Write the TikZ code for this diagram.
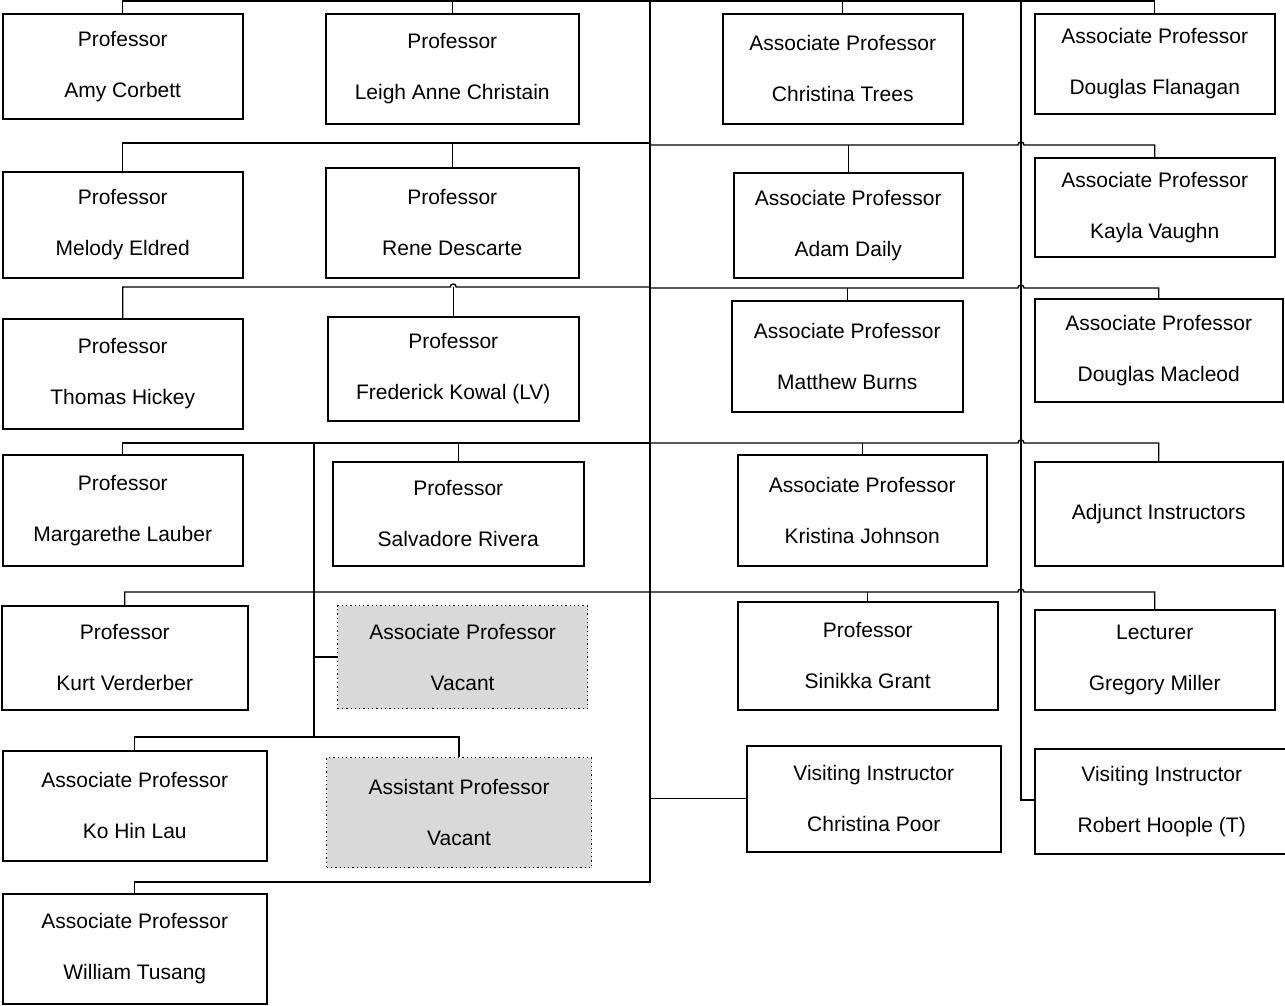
\documentclass[tikz,border=0pt]{standalone}
\usepackage{fontspec}
\setmainfont{Liberation Sans}
\definecolor{vacgray}{HTML}{D9D9D9}
\begin{document}
\begin{tikzpicture}[x=1pt,y=-1pt,
  box/.style={draw, line width=1.5pt, align=center, inner sep=0pt, anchor=north west,
              font=\fontsize{21}{51}\selectfont},
  vac/.style={box, fill=vacgray, line width=1.3pt, dash pattern=on 1.3pt off 3pt},
  conn/.style={line width=1.4pt}]
\useasboundingbox (0,0) rectangle (1285,1005);
\fill[white] (0,0) rectangle (1285,1005);

% boxes
\node[box, minimum width=240pt, minimum height=105pt] (amy)    at (2,13)    {Professor\\Amy Corbett};
\node[box, minimum width=253pt, minimum height=110pt] (leigh)  at (325,13)  {Professor\\Leigh Anne Christain};
\node[box, minimum width=240pt, minimum height=110pt] (trees)  at (722,13)  {Associate Professor\\Christina Trees};
\node[box, minimum width=240pt, minimum height=100pt] (flan)   at (1034,13) {Associate Professor\\Douglas Flanagan};

\node[box, minimum width=240pt, minimum height=106pt] (melody) at (2,171)   {Professor\\Melody Eldred};
\node[box, minimum width=253pt, minimum height=110pt] (rene)   at (325,167) {Professor\\Rene Descarte};
\node[box, minimum width=229pt, minimum height=105pt] (daily)  at (733,172) {Associate Professor\\Adam Daily};
\node[box, minimum width=240pt, minimum height=99pt]  (kayla)  at (1034,157){Associate Professor\\Kayla Vaughn};

\node[box, minimum width=240pt, minimum height=110pt] (hickey) at (2,318)   {Professor\\Thomas Hickey};
\node[box, minimum width=251pt, minimum height=104pt] (kowal)  at (327,316) {Professor\\Frederick Kowal (LV)};
\node[box, minimum width=231pt, minimum height=111pt] (burns)  at (731,300) {Associate Professor\\Matthew Burns};
\node[box, minimum width=248pt, minimum height=103pt] (macleod) at (1034,298){Associate Professor\\Douglas Macleod};

\node[box, minimum width=240pt, minimum height=111pt] (lauber) at (2,454)   {Professor\\Margarethe Lauber};
\node[box, minimum width=251pt, minimum height=104pt] (rivera) at (332,461) {Professor\\Salvadore Rivera};
\node[box, minimum width=249pt, minimum height=111pt] (johnson) at (737,454){Associate Professor\\Kristina Johnson};
\node[box, minimum width=248pt, minimum height=104pt] (adjunct) at (1034,461){Adjunct Instructors};

\node[box, minimum width=246pt, minimum height=104pt] (kurt)   at (1,605)   {Professor\\Kurt Verderber};
\node[vac, minimum width=250pt, minimum height=103pt] (avac)   at (337,605) {Associate Professor\\Vacant};
\node[box, minimum width=260pt, minimum height=108pt] (grant)  at (737,601) {Professor\\Sinikka Grant};
\node[box, minimum width=240pt, minimum height=100pt] (miller) at (1034,609){Lecturer\\Gregory Miller};

\node[box, minimum width=264pt, minimum height=110pt] (kolau)  at (2,750)   {Associate Professor\\Ko Hin Lau};
\node[vac, minimum width=265pt, minimum height=110pt] (asvac)  at (326,757) {Assistant Professor\\Vacant};
\node[box, minimum width=254pt, minimum height=106pt] (poor)   at (746,745) {Visiting Instructor\\Christina Poor};
\node[box, minimum width=254pt, minimum height=105pt] (hoople) at (1034,748){Visiting Instructor\\Robert Hoople (T)};

\node[box, minimum width=264pt, minimum height=110pt] (tusang) at (2,893)   {Associate Professor\\William Tusang};

% key coordinates
\coordinate (top)  at (650,1);
\coordinate (aend) at (650,882);
\coordinate (btop) at (1021,1);
\coordinate (bend) at (1021,800);
\coordinate (l2) at (650,143);
\coordinate (r2) at (650,145);
\coordinate (h2) at (1021,145);
\coordinate (l3) at (650,287);
\coordinate (r3) at (650,288);
\coordinate (h3) at (1021,288);
\coordinate (l4) at (650,443);
\coordinate (h4) at (1021,443);
\coordinate (s0) at (314,443);
\coordinate (s1) at (314,737);
\coordinate (h5) at (1021,592);

% top line
\draw[conn] (amy.north) -- (amy.north |- top) -- (flan.north |- top) -- (flan.north);
\draw[conn] (leigh.north) -- (leigh.north |- top);
\draw[conn] (trees.north) -- (trees.north |- top);

% trunks
\draw[conn] (top) -- (aend) -- (aend -| tusang.north) -- (tusang.north);
\draw[conn] (btop) -- (bend) -- (hoople.west |- bend);
\draw[conn] (poor.west -| top) -- (poor.west);

% row 2
\draw[conn] (melody.north) -- (melody.north |- l2) -- (l2);
\draw[conn] (rene.north) -- (rene.north |- l2);
\draw[conn] (r2) -- ([xshift=-3pt]h2) .. controls ([xshift=-3pt,yshift=4pt]h2) and ([xshift=3pt,yshift=4pt]h2) .. ([xshift=3pt]h2) -- (kayla.north |- r2) -- (kayla.north);
\draw[conn] (daily.north) -- (daily.north |- r2);

% row 3
\coordinate (h3a) at (kowal.north |- l3);
\draw[conn] (hickey.north) -- (hickey.north |- l3) -- ([xshift=-3pt]h3a) .. controls ([xshift=-3pt,yshift=4pt]h3a) and ([xshift=3pt,yshift=4pt]h3a) .. ([xshift=3pt]h3a) -- (l3);
\draw[conn] (kowal.north) -- (h3a);
\draw[conn] (r3) -- ([xshift=-3pt]h3) .. controls ([xshift=-3pt,yshift=4pt]h3) and ([xshift=3pt,yshift=4pt]h3) .. ([xshift=3pt]h3) -- (macleod.north |- r3) -- (macleod.north);
\draw[conn] (burns.north) -- (burns.north |- r3);

% row 4
\draw[conn] (lauber.north) -- (lauber.north |- l4) -- (l4);
\draw[conn] (rivera.north) -- (rivera.north |- l4);
\draw[conn] (l4) -- ([xshift=-3pt]h4) .. controls ([xshift=-3pt,yshift=4pt]h4) and ([xshift=3pt,yshift=4pt]h4) .. ([xshift=3pt]h4) -- (adjunct.north |- h4) -- (adjunct.north);
\draw[conn] (johnson.north) -- (johnson.north |- l4);

% sub-trunk
\draw[conn] (s0) -- (s1);
\draw[conn] (avac.west -| s0) -- (avac.west);
\draw[conn] (kolau.north) -- (kolau.north |- s1) -- (asvac.north |- s1) -- (asvac.north);

% row 5
\draw[conn] (kurt.north) -- (kurt.north |- h5) -- ([xshift=-3pt]h5) .. controls ([xshift=-3pt,yshift=4pt]h5) and ([xshift=3pt,yshift=4pt]h5) .. ([xshift=3pt]h5) -- (miller.north |- h5) -- (miller.north);
\draw[conn] (grant.north) -- (grant.north |- h5);
\end{tikzpicture}
\end{document}
